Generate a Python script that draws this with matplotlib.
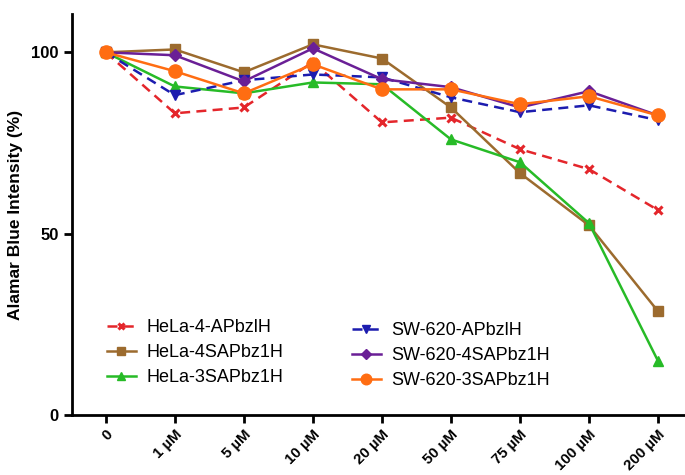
import matplotlib
matplotlib.use("Agg")
import matplotlib.pyplot as plt

plt.rcParams['font.family'] = ['Liberation Sans', 'DejaVu Sans']

# concentrations (x categories)
doses = ['0', '1 µM', '5 µM', '10 µM', '20 µM', '50 µM', '75 µM', '100 µM', '200 µM']

# alamar blue intensity (%)
hela_apbzlh = [100, 83.2, 84.8, 97.3, 80.7, 82.0, 73.3, 67.8, 56.5]
hela_4sapbz1h = [100, 100.8, 94.5, 102.2, 98.3, 84.8, 66.7, 52.3, 28.6]
hela_3sapbz1h = [100, 90.6, 88.7, 91.7, 91.2, 76.0, 69.7, 52.9, 14.9]
sw_apbzlh = [100, 88.2, 92.3, 93.9, 93.1, 87.6, 83.5, 85.4, 81.3]
sw_4sapbz1h = [100, 99.2, 92.0, 101.1, 92.6, 90.4, 84.8, 89.3, 82.6]
sw_3sapbz1h = [100, 94.8, 88.7, 96.7, 89.8, 89.8, 85.7, 87.9, 82.6]

x = list(range(len(doses)))

fig = plt.figure(figsize=(6.85, 4.75), dpi=100)
ax = fig.add_axes([0.105, 0.126, 0.895, 0.844])

h1, = ax.plot(x, hela_apbzlh, color='#e4262b', ls=(0, (4, 2.5)), lw=1.8,
              marker='x', ms=6, mew=2.2, label='HeLa-4-APbzlH')
h2, = ax.plot(x, hela_4sapbz1h, color='#9c6b2e', lw=1.8,
              marker='s', ms=7, label='HeLa-4SAPbz1H')
h3, = ax.plot(x, hela_3sapbz1h, color='#27bb27', lw=1.8,
              marker='^', ms=7, label='HeLa-3SAPbz1H')
h4, = ax.plot(x, sw_apbzlh, color='#1c1caf', ls=(0, (4, 2.5)), lw=1.8,
              marker='v', ms=7, label='SW-620-APbzlH')
h5, = ax.plot(x, sw_4sapbz1h, color='#6a1f96', lw=1.8,
              marker='D', ms=6, label='SW-620-4SAPbz1H')
h6, = ax.plot(x, sw_3sapbz1h, color='#ff6d12', lw=1.8,
              marker='o', ms=9.5, label='SW-620-3SAPbz1H')

ax.set_xlim(-0.49, 8.39)
ax.set_ylim(0, 110.5)
ax.set_yticks([0, 50, 100])
ax.set_xticks(x)
ax.set_xticklabels(doses, rotation=45, ha='right', rotation_mode='anchor',
                   fontweight='bold', fontsize=10.8)
for t in ax.get_yticklabels():
    t.set_fontweight('bold')
    t.set_fontsize(12)
ax.tick_params(axis='both', width=2, length=6, direction='out')
ax.tick_params(axis='x', pad=3)
ax.set_ylabel('Alamar Blue Intensity (%)', fontweight='bold', fontsize=12.5, labelpad=6)

for s in ['top', 'right']:
    ax.spines[s].set_visible(False)
for s in ['left', 'bottom']:
    ax.spines[s].set_linewidth(2)

# two legend columns as in the original
leg1 = ax.legend(handles=[h1, h2, h3], loc='upper left', bbox_to_anchor=(0.045, 0.258),
                 frameon=False, fontsize=13, handlelength=1.6, handletextpad=0.6,
                 labelspacing=0.45, borderaxespad=0, markerscale=0.8)
ax.add_artist(leg1)
ax.legend(handles=[h4, h5, h6], loc='upper left', bbox_to_anchor=(0.445, 0.25),
          frameon=False, fontsize=13, handlelength=1.6, handletextpad=0.6,
          labelspacing=0.45, borderaxespad=0, markerscale=0.8)

fig.savefig('out.png', dpi=100)
